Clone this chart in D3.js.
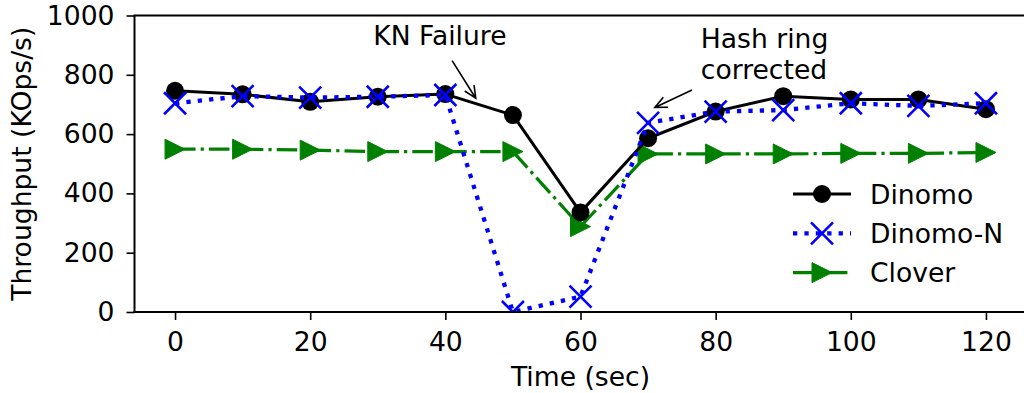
<!DOCTYPE html>
<html>
<head>
<meta charset="utf-8">
<script src="https://cdn.jsdelivr.net/npm/d3@7"></script>
<style>
  body { margin: 0; background: #fff; }
  svg { display: block; }
  text { font-family: "DejaVu Sans", sans-serif; fill: #000; }
</style>
</head>
<body>
<svg id="chart" width="1024" height="393"></svg>
<script>
// Throughput over time around a KN failure
const times   = [0, 10, 20, 30, 40, 50, 60, 70, 80, 90, 100, 110, 120];
const dinomo  = [746, 734, 709, 726, 735, 664, 336, 586, 676, 728, 717, 717, 684];
const dinomoN = [704, 728, 723, 726, 732, 0, 52, 638, 676, 681, 704, 695, 704];
const clover  = [549, 549, 546, 541, 541, 541, 288, 533, 533, 533, 535, 535, 538];

const seriesNames = ["Dinomo", "Dinomo-N", "Clover"];
const xTicks = [0, 20, 40, 60, 80, 100, 120];
const yTicks = [0, 200, 400, 600, 800, 1000];

const svg = d3.select("#chart");
const FS = 26.6;

const plot = { left: 134.5, right: 1026.5, top: 15.5, bottom: 312 };
const x = d3.scaleLinear().domain([-6, 126]).range([plot.left, plot.right]);
const y = d3.scaleLinear().domain([0, 1000]).range([plot.bottom, plot.top]);

svg.append("defs").append("clipPath").attr("id", "plotClip")
  .append("rect")
  .attr("x", plot.left).attr("y", plot.top)
  .attr("width", plot.right - plot.left).attr("height", plot.bottom - plot.top);

// marker symbols
function drawMarker(g, kind, cx, cy, color) {
  if (kind === "circle") {
    g.append("circle").attr("cx", cx).attr("cy", cy).attr("r", 9).attr("fill", color);
  } else if (kind === "x") {
    const s = 11;
    g.append("path")
      .attr("d", `M${cx - s},${cy - s}L${cx + s},${cy + s}M${cx - s},${cy + s}L${cx + s},${cy - s}`)
      .attr("stroke", color).attr("stroke-width", 2.6).attr("fill", "none");
  } else if (kind === "tri") {
    const s = 10;
    g.append("path")
      .attr("d", `M${cx + s},${cy}L${cx - s},${cy - s}L${cx - s},${cy + s}Z`)
      .attr("fill", color).attr("stroke", color).attr("stroke-width", 1);
  }
}

const styles = {
  "Dinomo":   { values: dinomo,  color: "#000000", width: 3,   dash: null,              marker: "circle" },
  "Dinomo-N": { values: dinomoN, color: "#0000ff", width: 4.3, dash: "4.3,7.1",         marker: "x" },
  "Clover":   { values: clover,  color: "#008000", width: 3.2, dash: "20.5,5.1,3.2,5.1", marker: "tri" }
};

const dataLayer = svg.append("g").attr("clip-path", "url(#plotClip)");
const line = d3.line().x(d => x(d[0])).y(d => y(d[1]));

// stacking order: Clover underneath, Dinomo-N on top
["Clover", "Dinomo", "Dinomo-N"].forEach(name => {
  const st = styles[name];
  const pts = times.map((t, i) => [t, st.values[i]]);
  const g = dataLayer.append("g");
  g.append("path")
    .attr("d", line(pts))
    .attr("fill", "none")
    .attr("stroke", st.color)
    .attr("stroke-width", st.width)
    .attr("stroke-linejoin", "round")
    .attr("stroke-dasharray", st.dash);
  pts.forEach(p => drawMarker(g, st.marker, x(p[0]), y(p[1]), st.color));
});

// axes
const fmt = d3.format("d");
const xAxis = d3.axisBottom(x).tickValues(xTicks).tickFormat(fmt).tickSize(8).tickPadding(12).tickSizeOuter(0);
const yAxis = d3.axisLeft(y).tickValues(yTicks).tickFormat(fmt).tickSize(8).tickPadding(12).tickSizeOuter(0);

const gx = svg.append("g").attr("transform", `translate(0,${plot.bottom})`).call(xAxis);
const gy = svg.append("g").attr("transform", `translate(${plot.left},0)`).call(yAxis);
[gx, gy].forEach(g => {
  g.select(".domain").remove();
  g.selectAll(".tick line").attr("stroke", "#000").attr("stroke-width", 1.6);
  g.selectAll(".tick text").style("font-family", "DejaVu Sans").style("font-size", FS + "px").attr("fill", "#000");
});

// spines
const spines = svg.append("g").attr("stroke", "#000").attr("stroke-width", 2).attr("fill", "none");
spines.append("path").attr("d", `M${plot.left},${plot.top}V${plot.bottom}`);
spines.append("path").attr("d", `M${plot.left - 1},${plot.bottom}H${plot.right}`);
spines.append("path").attr("d", `M${plot.left - 1},${plot.top}H${plot.right}`);
spines.append("path").attr("d", `M${plot.right},${plot.top}V${plot.bottom}`);

// axis titles
svg.append("text")
  .attr("x", (plot.left + plot.right) / 2).attr("y", 386)
  .attr("text-anchor", "middle").style("font-size", FS + "px")
  .text("Time (sec)");
svg.append("text")
  .attr("transform", `translate(31,${(plot.top + plot.bottom) / 2}) rotate(-90)`)
  .attr("text-anchor", "middle").style("font-size", FS + "px")
  .text("Throughput (KOps/s)");

// annotations (data coordinates)
const notes = [
  { lines: ["KN Failure"], tx: 39.2, ty: 900, anchor: "middle", from: [41.0, 848], to: [44.5, 721] },
  { lines: ["Hash ring", "corrected"], tx: 77.8, ty: 889, anchor: "start", from: [76.5, 749], to: [71.0, 690] }
];
const ann = svg.append("g");
notes.forEach(n => {
  const t = ann.append("text")
    .attr("x", x(n.tx)).attr("y", y(n.ty))
    .attr("text-anchor", n.anchor).style("font-size", FS + "px");
  n.lines.forEach((s, i) => t.append("tspan").attr("x", x(n.tx)).attr("dy", i ? 30.7 : 0).text(s));
  const x1 = x(n.from[0]), y1 = y(n.from[1]), x2 = x(n.to[0]), y2 = y(n.to[1]);
  const a = Math.atan2(y2 - y1, x2 - x1), L = 12, W = 5.5;
  const bx = x2 - L * Math.cos(a), by = y2 - L * Math.sin(a);
  const px = -Math.sin(a) * W, py = Math.cos(a) * W;
  ann.append("path")
    .attr("d", `M${x1},${y1}L${x2},${y2}M${bx + px},${by + py}L${x2},${y2}L${bx - px},${by - py}`)
    .attr("fill", "none").attr("stroke", "#000").attr("stroke-width", 1.6);
});

// legend
const legend = svg.append("g");
seriesNames.forEach((name, i) => {
  const st = styles[name];
  const cy = 194 + i * 39.3;
  const g = legend.append("g");
  g.append("path")
    .attr("d", `M793,${cy}H851`)
    .attr("stroke", st.color).attr("stroke-width", st.width)
    .attr("stroke-dasharray", st.dash).attr("fill", "none");
  drawMarker(g, st.marker, 822, cy, st.color);
  g.append("text").attr("x", 870).attr("y", cy).attr("dy", "0.36em")
    .style("font-size", FS + "px").text(name);
});
</script>
</body>
</html>
